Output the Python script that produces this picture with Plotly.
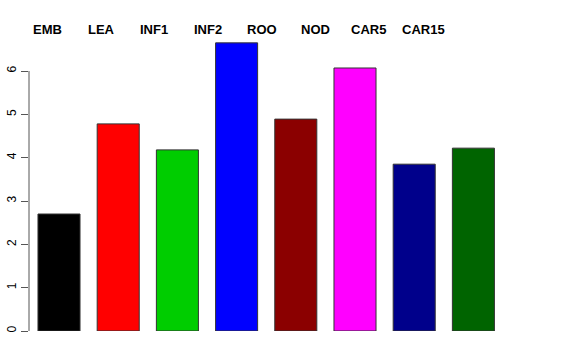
import plotly.graph_objects as go

categories = ["EMB", "LEA", "INF1", "INF2", "ROO", "NOD", "CAR5", "CAR15"]
values = [2.70, 4.78, 4.18, 6.65, 4.89, 6.07, 3.85, 4.22]
colors = ["#000000", "#FF0000", "#00CD00", "#0000FF", "#8B0000", "#FF00FF", "#00008B", "#006400"]
y_ticks = [0, 1, 2, 3, 4, 5, 6]

W, H = 576, 360
ml, mr, mt, mb = 29, 56, 40, 29
pw = W - ml - mr
ph = H - mt - mb
px_per_bar = 59.2
x0 = -(59 - ml) / px_per_bar
x1 = x0 + pw / px_per_bar
px_per_unit_y = 43.33
y1 = ph / px_per_unit_y

fig = go.Figure()
fig.add_trace(go.Bar(
    x=list(range(len(categories))), y=values,
    marker=dict(color=colors, line=dict(color="#333333", width=1)),
    hoverinfo="skip", showlegend=False,
))

# labels across the top, like an R text legend
label_px = [31, 86, 138, 192, 245, 299, 349, 400]
for name, lx in zip(categories, label_px):
    fig.add_annotation(
        x=(lx - ml) / pw, xref="paper", xanchor="left",
        y=1 + (mt - 30) / ph, yref="paper", yanchor="middle",
        text="<b>%s</b>" % name, showarrow=False,
        font=dict(family="Liberation Sans, Arial, sans-serif", size=13, color="#000000"),
    )

# R-style axis line spanning only the ticks
fig.add_shape(type="line", xref="paper", yref="y", x0=0, x1=0,
              y0=min(y_ticks), y1=max(y_ticks), line=dict(color="#555555", width=1))

fig.update_layout(
    width=W, height=H,
    margin=dict(l=ml, r=mr, t=mt, b=mb, autoexpand=False),
    plot_bgcolor="white", paper_bgcolor="white",
    bargap=0.29,
    hovermode=False,
    xaxis=dict(range=[x0, x1], showticklabels=False, showgrid=False, zeroline=False,
               showline=False, ticks="", automargin=False, fixedrange=True),
    yaxis=dict(range=[0, y1], tickvals=y_ticks, ticktext=[str(v) for v in y_ticks],
               showgrid=False, zeroline=False, showline=False, automargin=False,
               fixedrange=True,
               ticks="outside", ticklen=7, tickcolor="#555555", tickwidth=1,
               tickangle=-90,
               tickfont=dict(family="Liberation Sans, Arial, sans-serif", size=12, color="#000000")),
)

fig.write_html("out.html", config={"displayModeBar": False, "staticPlot": True},
               post_script="document.body.style.margin='0';document.body.style.overflow='hidden';")
